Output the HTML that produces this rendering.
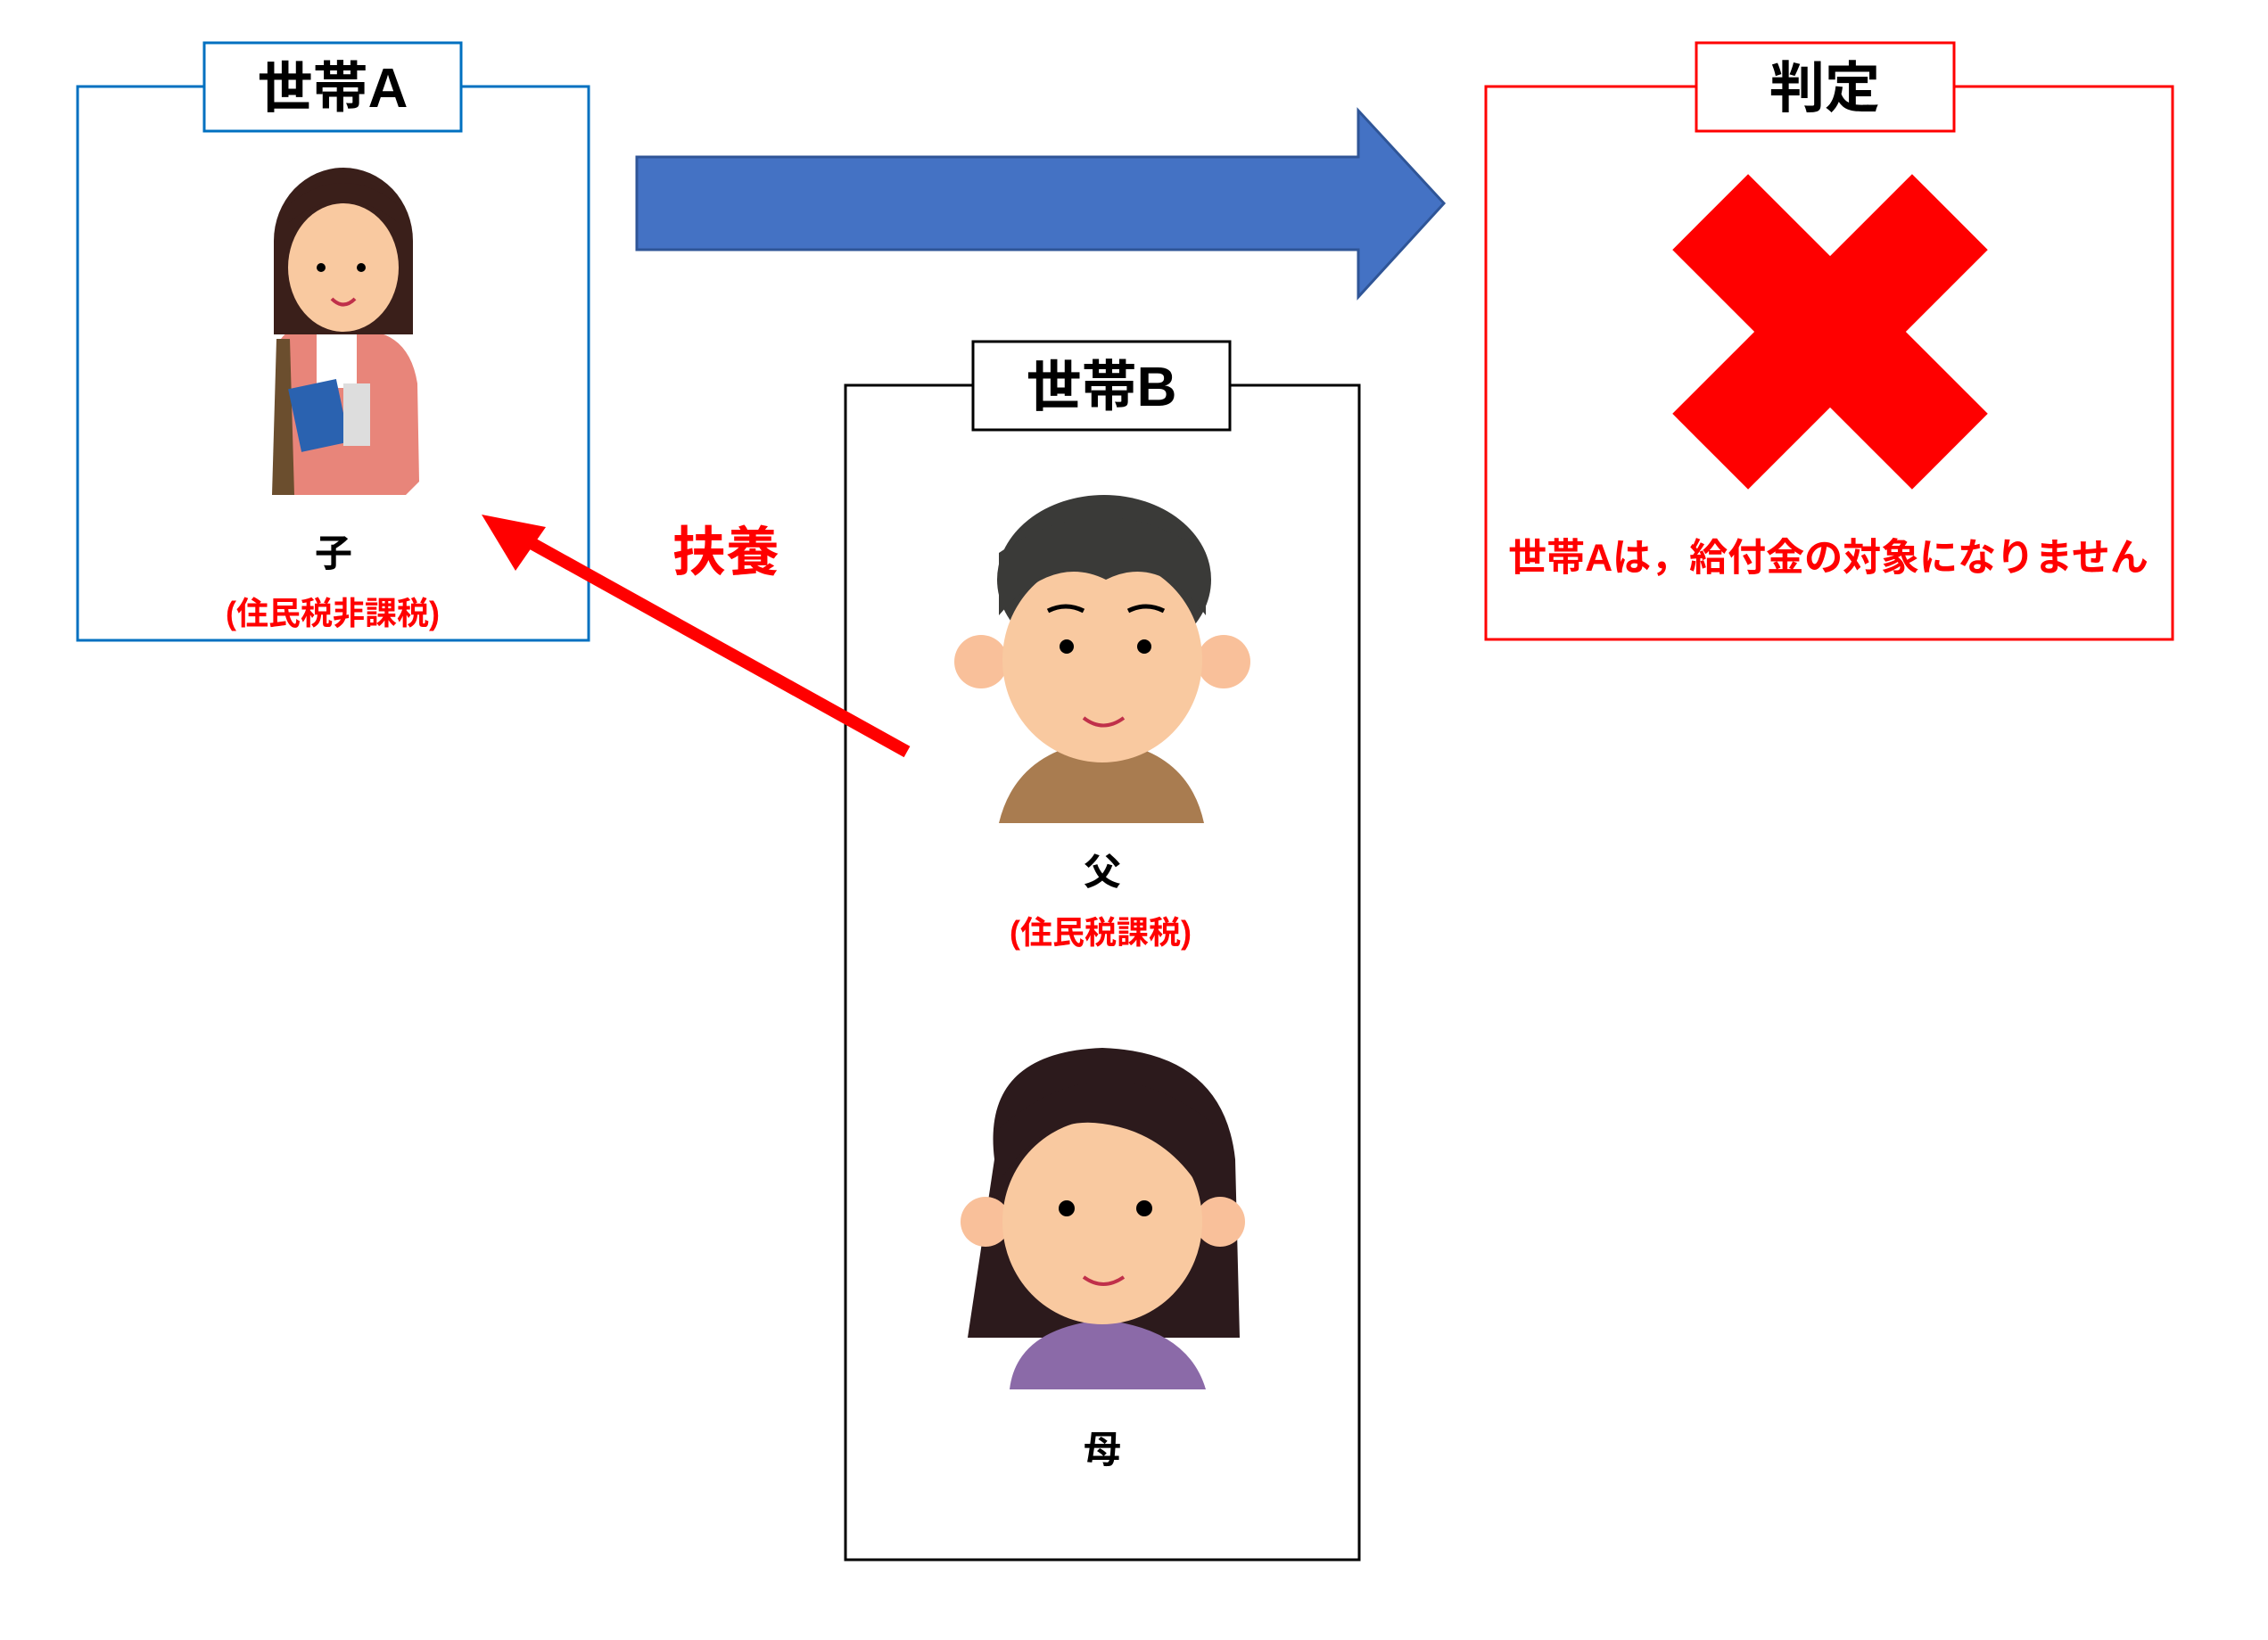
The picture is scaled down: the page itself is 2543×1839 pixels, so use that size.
<!DOCTYPE html>
<html><head><meta charset="utf-8"><style>
html,body{margin:0;padding:0;background:#fff;}
svg{display:block;}
text{font-family:"Liberation Sans","Noto Sans CJK JP",sans-serif;font-weight:bold;}
</style></head><body>
<svg width="2543" height="1839" viewBox="0 0 2543 1839" xmlns="http://www.w3.org/2000/svg">
<!-- Box A -->
<rect x="87" y="97" width="573" height="621" fill="#fff" stroke="#0070c0" stroke-width="3"/>
<rect x="229" y="48" width="288" height="99" fill="#fff" stroke="#0070c0" stroke-width="3"/>
<text x="373" y="120" font-size="62" text-anchor="middle">世帯A</text>
<!-- girl -->
<g>
<path d="M310 555 L315 380 Q330 360 360 370 L420 372 Q460 380 468 430 L470 540 L455 555 Z" fill="#e8857a"/>
<rect x="355" y="375" width="45" height="60" fill="#fff"/>
<path d="M310 380 L325 380 L330 555 L305 555 Z" fill="#6b4e2e"/>
<ellipse cx="385" cy="270" rx="78" ry="82" fill="#3a1f1a"/>
<rect x="307" y="270" width="156" height="105" fill="#3a1f1a"/>
<ellipse cx="385" cy="300" rx="62" ry="72" fill="#f9c9a0"/>
<path d="M323 250 Q385 200 447 250 L447 230 Q385 180 323 230 Z" fill="#3a1f1a"/>
<circle cx="360" cy="300" r="5" fill="#000"/><circle cx="405" cy="300" r="5" fill="#000"/>
<path d="M372 335 Q385 348 398 335" stroke="#c0304a" stroke-width="4" fill="none"/>
<rect x="330" y="430" width="55" height="72" fill="#2a62b0" transform="rotate(-12 357 466)"/>
<rect x="385" y="430" width="30" height="70" fill="#ddd"/>
</g>
<text x="374" y="635" font-size="42" text-anchor="middle">子</text>
<text x="373" y="700" font-size="36" fill="#f00" text-anchor="middle">(住民税非課税)</text>
<!-- blue arrow -->
<polygon points="714,176 1523,176 1523,124 1619,228 1523,333 1523,280 714,280" fill="#4472c4" stroke="#2f5597" stroke-width="3"/>
<!-- Box B -->
<rect x="948" y="432" width="576" height="1317" fill="#fff" stroke="#000" stroke-width="3"/>
<rect x="1091" y="383" width="288" height="99" fill="#fff" stroke="#000" stroke-width="3"/>
<text x="1235" y="455" font-size="62" text-anchor="middle">世帯B</text>
<!-- father -->
<g>
<path d="M1120 923 Q1140 840 1236 830 Q1332 840 1350 923 Z" fill="#a97c50"/>
<ellipse cx="1238" cy="650" rx="120" ry="95" fill="#3a3a38"/>
<circle cx="1100" cy="742" r="30" fill="#f9c09a"/><circle cx="1372" cy="742" r="30" fill="#f9c09a"/>
<ellipse cx="1236" cy="740" rx="112" ry="115" fill="#f9c9a0"/>
<path d="M1120 690 Q1180 620 1240 650 Q1300 620 1352 690 L1352 620 Q1236 540 1120 620 Z" fill="#3a3a38"/>
<circle cx="1196" cy="725" r="8" fill="#000"/><circle cx="1283" cy="725" r="8" fill="#000"/>
<path d="M1175 685 Q1195 675 1215 685 M1265 685 Q1285 675 1305 685" stroke="#000" stroke-width="5" fill="none"/>
<path d="M1215 805 Q1237 822 1260 805" stroke="#c0304a" stroke-width="4" fill="none"/>
</g>
<text x="1236" y="992" font-size="42" text-anchor="middle">父</text>
<text x="1234" y="1058" font-size="36" fill="#f00" text-anchor="middle">(住民税課税)</text>
<!-- mother -->
<g>
<path d="M1115 1300 Q1100 1180 1236 1175 Q1372 1180 1385 1300 L1390 1500 L1085 1500 Z" fill="#2c1a1c"/>
<path d="M1132 1558 Q1140 1490 1236 1480 Q1332 1490 1352 1558 Z" fill="#8b6aa8"/>
<circle cx="1105" cy="1370" r="28" fill="#f9c09a"/><circle cx="1368" cy="1370" r="28" fill="#f9c09a"/>
<ellipse cx="1236" cy="1370" rx="112" ry="115" fill="#f9c9a0"/>
<path d="M1124 1320 Q1170 1250 1236 1260 Q1310 1270 1350 1340 L1360 1260 Q1236 1160 1115 1270 Z" fill="#2c1a1c"/>
<circle cx="1196" cy="1355" r="9" fill="#000"/><circle cx="1283" cy="1355" r="9" fill="#000"/>
<path d="M1215 1432 Q1237 1448 1260 1432" stroke="#c0304a" stroke-width="4" fill="none"/>
</g>
<text x="1236" y="1640" font-size="42" text-anchor="middle">母</text>
<!-- red arrow -->
<line x1="1017" y1="843" x2="585" y2="603" stroke="#f00" stroke-width="14"/>
<polygon points="540,577 612,591 578,640" fill="#f00"/>
<text x="814" y="640" font-size="60" fill="#f00" text-anchor="middle">扶養</text>
<!-- Red box -->
<rect x="1666" y="97" width="770" height="620" fill="#fff" stroke="#f00" stroke-width="3"/>
<rect x="1902" y="48" width="289" height="99" fill="#fff" stroke="#f00" stroke-width="3"/>
<text x="2046" y="120" font-size="62" text-anchor="middle">判定</text>
<g transform="translate(2052 372) rotate(45)">
<rect x="-60" y="-190" width="120" height="380" fill="#f00"/>
<rect x="-190" y="-60" width="380" height="120" fill="#f00"/>
</g>
<text x="2050" y="640" font-size="43" fill="#f00" text-anchor="middle">世帯Aは，給付金の対象になりません</text>
</svg>
</body></html>
